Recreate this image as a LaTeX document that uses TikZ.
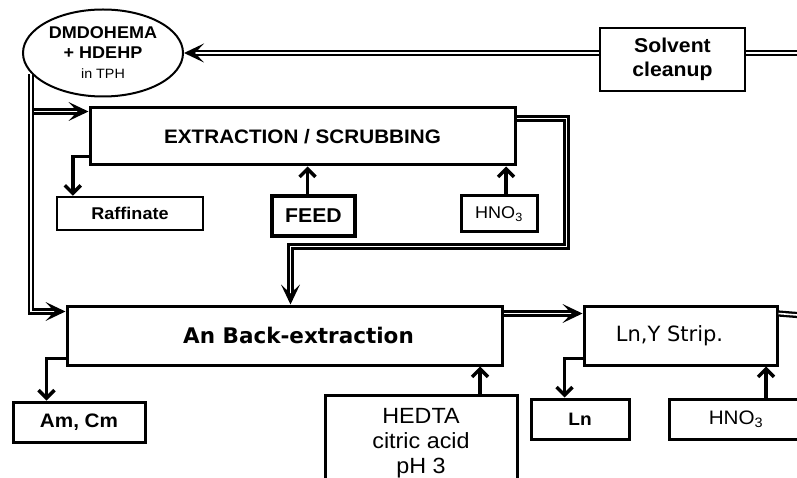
\documentclass[tikz,border=0pt]{standalone}
\usepackage{fontspec}
\setmainfont{Liberation Sans}[FakeStretch=1.06]
\newfontfamily\verdana{DejaVu Sans}
\usetikzlibrary{arrows.meta, shapes.geometric, decorations.markings}

\begin{document}
\begin{tikzpicture}[x=1pt, y=-1pt,
    box/.style={draw, line width=3pt, inner sep=0pt, align=center},
    solvent/.style={ellipse, draw, line width=2pt, inner sep=0pt, align=center},
    aqline/.style={line width=3.5pt, -{Straight Barb[length=8pt,width=16pt]}},
    orgline/.style={double, line width=2.3pt, double distance=1.6pt},
    orgarrow/.style={orgline, shorten >=9pt, postaction={decorate, decoration={markings,
      mark=at position 1 with {\fill[black, shorten >=0pt] (0,0) -- (-20pt,9.5pt) -- (-11pt,0) -- (-20pt,-9.5pt) -- cycle;}}}}]
  \path[use as bounding box, clip] (0,0) rectangle (797,478);
  % Solvent
  \node[solvent, minimum width=160, minimum height=87, font=\fontsize{17}{20}\selectfont\bfseries] (dm) at (103,53)
    {DMDOHEMA\\+ HDEHP\\{\fontsize{13.5}{20}\selectfont\mdseries in TPH}};
  \node[box, line width=2.5pt, minimum width=145, minimum height=63, font=\fontsize{20}{24}\selectfont\bfseries] (sc) at (672.5,59.5) {Solvent\\cleanup};
  % Extraction / scrubbing
  \node[box, minimum width=425, minimum height=57, font=\fontsize{19.5}{22}\selectfont\bfseries] (ex) at (302.5,136.5) {EXTRACTION / SCRUBBING};
  \node[box, line width=2.5pt, minimum width=146, minimum height=33, font=\fontsize{17}{20}\selectfont\bfseries] (raf) at (130,213.5) {Raffinate};
  \node[box, line width=3.5pt, minimum width=83, minimum height=40, font=\fontsize{20}{23}\selectfont\bfseries] (feed) at (313.5,216) {FEED};
  \node[box, minimum width=76, minimum height=36, font=\fontsize{17}{20}\selectfont] (hno) at (499,214) {HNO\textsubscript{3}};
  % Back-extraction and strip
  \node[box, minimum width=435, minimum height=59, font=\verdana\fontsize{21.5}{26}\selectfont\bfseries] (an) at (284.5,335.5) {\hspace*{28pt}An Back-extraction};
  \node[box, minimum width=193, minimum height=59, font=\verdana\fontsize{21}{25}\selectfont] (lny) at (680.5,335.5) {Ln,Y Strip.\hspace*{22pt}};
  \node[box, minimum width=132, minimum height=40, font=\fontsize{19.5}{22}\selectfont\bfseries] (amcm) at (79,422) {Am, Cm};
  \node[box, minimum width=192, minimum height=96, font=\fontsize{22}{25}\selectfont] (hedta) at (421,443) {HEDTA\\citric acid\\pH 3};
  \node[box, minimum width=98, minimum height=40, font=\fontsize{18}{20}\selectfont\bfseries] (ln) at (580,419) {Ln};
  \node[box, minimum width=134, minimum height=40, font=\fontsize{19.5}{22}\selectfont] (hno2) at (736,419) {HNO\textsubscript{3}};
  \coordinate (scout) at (797,53);
  \coordinate (lnyout) at (797,315);
  % Organic flows
  \draw[orgarrow] (sc.west |- dm.east) -- (dm.east);
  \draw[orgline] (sc.east |- dm.east) -- (scout);
  \draw[orgarrow] (dm.196) |- ([yshift=-5pt]ex.north west);
  \draw[orgarrow] (dm.196) |- ([yshift=-7pt]an.north west);
  \draw[orgarrow] ([yshift=-12pt]ex.north east) -| ++(50,128) -| ([xshift=6pt]an.north);
  \draw[orgarrow] ([yshift=-9pt]an.north east) -- ([yshift=-9pt]lny.north west);
  \draw[orgline] ([yshift=-9pt]lny.north east) -- (lnyout);
  % Aqueous flows
  \draw[aqline] ([yshift=10pt]ex.south west) -| ([xshift=17pt]raf.north west);
  \draw[aqline] ([xshift=-6pt]feed.north) coordinate (fd) -- (fd |- ex.south);
  \draw[aqline] ([xshift=7pt]hno.north) coordinate (hn) -- (hn |- ex.south);
  \draw[aqline] ([yshift=8pt]an.south west) -| ([xshift=35pt]amcm.north west);
  \draw[aqline] ([xshift=59pt]hedta.north) coordinate (hd) -- (hd |- an.south);
  \draw[aqline] ([yshift=8pt]lny.south west) -| ([xshift=35pt]ln.north west);
  \draw[aqline] ([xshift=30pt]hno2.north) coordinate (h2) -- (h2 |- lny.south);
\end{tikzpicture}
\end{document}
